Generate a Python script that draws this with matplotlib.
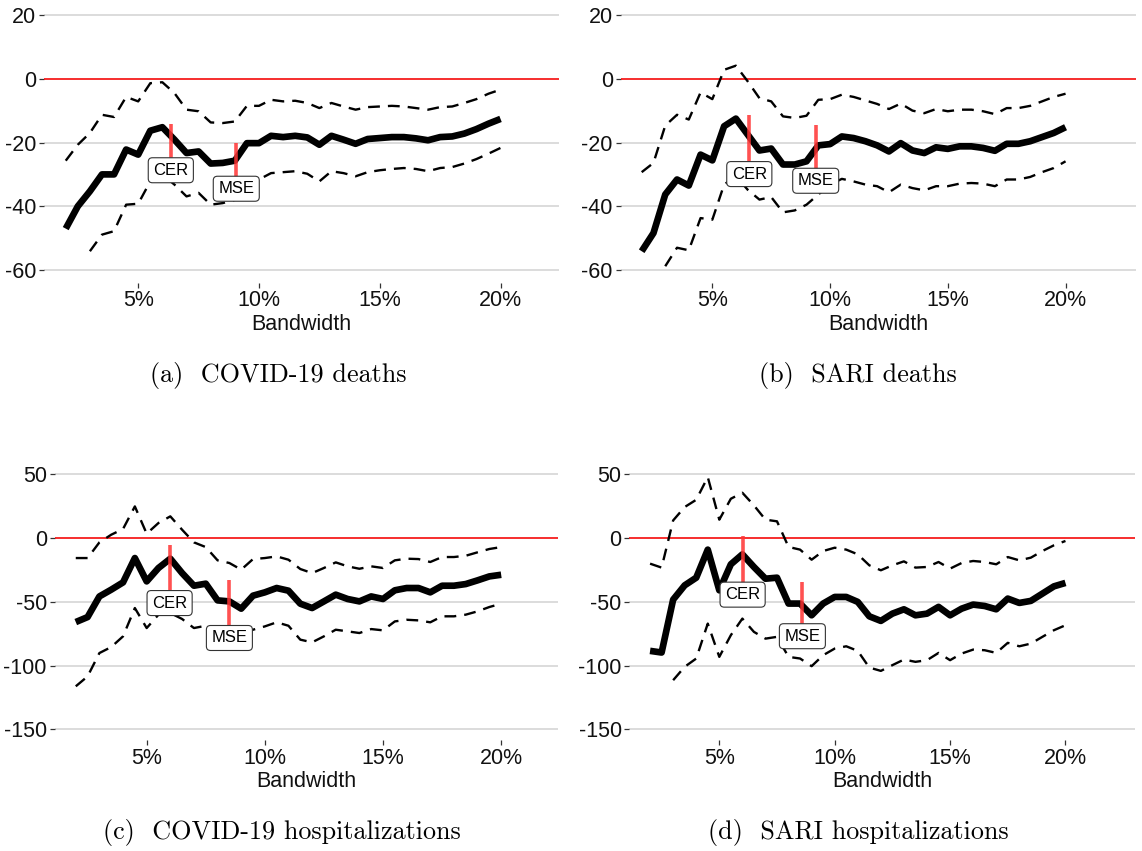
import matplotlib
matplotlib.use("Agg")
import matplotlib.pyplot as plt
import numpy as np

plt.rcParams["font.family"] = ["Liberation Sans", "DejaVu Sans"]

# bandwidth grid (percent)
bandwidth = [2.0, 2.5, 3.0, 3.5, 4.0, 4.5, 5.0, 5.5, 6.0, 6.5, 7.0, 7.5, 8.0,
             8.5, 9.0, 9.5, 10.0, 10.5, 11.0, 11.5, 12.0, 12.5, 13.0, 13.5,
             14.0, 14.5, 15.0, 15.5, 16.0, 16.5, 17.0, 17.5, 18.0, 18.5,
             19.0, 19.5, 20.0]

# (a) COVID-19 deaths
covid_deaths_est = [-47, -40, -35.3, -30, -30, -22.2, -23.8, -16.3, -15.2, -19.1,
                    -23.3, -22.8, -26.6, -26.4, -25.7, -20.2, -20.2, -17.9, -18.3,
                    -17.9, -18.4, -20.7, -17.9, -19.1, -20.4, -18.9, -18.6, -18.3,
                    -18.3, -18.7, -19.3, -18.3, -18.1, -17.2, -15.8, -14.1, -12.6]
covid_deaths_hi = [-25.7, -20.7, -17, -11.3, -12, -5.7, -7.1, -1.4, -1.1, -4.5,
                   -9.7, -10.2, -13.7, -13.9, -13.4, -8.5, -8.5, -6.6, -7.1,
                   -6.9, -7.6, -9.2, -7.6, -8.7, -9.7, -8.9, -8.7, -8.5,
                   -8.7, -9.2, -9.7, -8.9, -8.7, -7.6, -6.4, -4.7, -3.4]
covid_deaths_lo = [np.nan, np.nan, -54.1, -48.9, -47.8, -39.5, -39.2, -32.2, -30, -33.2,
                   -36.9, -35.8, -39.5, -39, -38, -33.7, -31.6, -29.6, -29.3,
                   -29, -29.8, -32.2, -29, -29.6, -30.6, -29.3, -28.7, -28.3,
                   -28, -28.3, -29, -28, -27.7, -26.6, -25.2, -23.5, -21.7]

# (b) SARI deaths
sari_deaths_est = [-54.1, -48.4, -36.3, -31.6, -33.5, -23.8, -25.6, -14.9, -12.5, -17.5,
                   -22.5, -21.9, -26.9, -26.9, -25.9, -20.9, -20.5, -18.1, -18.6,
                   -19.6, -20.9, -22.8, -20.2, -22.5, -23.3, -21.5, -22, -21.2,
                   -21.2, -21.7, -22.6, -20.4, -20.4, -19.6, -18.3, -17, -15.2]
sari_deaths_hi = [-29.3, -26.4, -14.7, -11.3, -12.8, -4.3, -6.4, 2.8, 4.1, -0.8,
                  -6.1, -7.1, -11.8, -12.3, -11.6, -6.6, -6.4, -5, -5.7,
                  -6.8, -7.9, -9.5, -7.8, -10, -10.8, -9.5, -10.2, -9.7,
                  -9.7, -10.2, -11.1, -9.2, -9.2, -8.5, -7.1, -5.7, -4.7]
sari_deaths_lo = [np.nan, np.nan, -58.8, -53, -53.8, -43.7, -44.2, -33.2, -30.5, -34.8,
                  -37.9, -37.1, -41.9, -41.3, -39.5, -36.3, -33.2, -31.4, -32.2,
                  -33.2, -33.7, -35.6, -33.2, -34.3, -35, -33.7, -33.7, -32.9,
                  -32.7, -32.9, -33.7, -31.6, -31.6, -30.8, -29.3, -28, -25.9]

# (c) COVID-19 hospitalizations
covid_hosp_est = [-65.9, -62, -45.8, -40.5, -34.8, -15.7, -34, -23.5, -16.2, -27.5,
                  -37.4, -35.8, -48.9, -49.7, -55.4, -45.2, -42.6, -39.2, -41.3,
                  -51.5, -54.9, -49.7, -44.4, -47.8, -49.7, -45.8, -47.8, -41,
                  -39.2, -39.2, -42.6, -37.4, -37.4, -36.1, -33.2, -30.1, -28.8]
covid_hosp_hi = [-15.7, -15.7, -3.4, 2.6, 7.1, 24.8, 3.4, 11.8, 17, 6.5,
                 -3.4, -7.1, -17.5, -19.6, -24.8, -16.5, -15.7, -14.4, -17,
                 -24.3, -27.5, -23.5, -19.1, -22.2, -24.1, -22.2, -23.5, -17.5,
                 -16.2, -16.5, -18.8, -14.9, -14.9, -13.9, -11.2, -8.6, -7.1]
covid_hosp_lo = [-116.3, -108.5, -90.2, -85.5, -77.1, -54.9, -70.6, -60.1, -58.8, -63.5,
                 -70.6, -68.8, -77, -78, -76.6, -71.9, -69.3, -66.1, -68.8,
                 -79.7, -81.8, -77.1, -71.9, -73.2, -74.5, -71.4, -72.4, -65.4,
                 -64.1, -64.6, -66.1, -61.4, -61.4, -60.1, -57.5, -54.1, -51.5]

# (d) SARI hospitalizations
sari_hosp_est = [-88.5, -89.8, -48.3, -37.1, -31.1, -9.1, -41, -20.6, -12.8, -22.7,
                 -31.9, -31.1, -51.4, -51.4, -60.6, -51.4, -46.2, -46.2, -50.1,
                 -61.4, -65, -59.3, -55.9, -60.6, -59.3, -54, -60.6, -55.4,
                 -52.2, -53.3, -55.9, -47.5, -50.9, -49.3, -43.6, -37.9, -35.2]
sari_hosp_hi = [-20.1, -23.2, 13.8, 24.3, 30, 47.8, 14.4, 30.8, 35.5, 25.6,
                14.4, 13.1, -7, -9.1, -17, -10.2, -7.6, -9.1, -12.8,
                -21.4, -25.3, -21.4, -18.3, -23.2, -22.7, -18.8, -24, -19.6,
                -18, -18.8, -20.6, -14.9, -17.5, -15.4, -10.2, -5.7, -2.3]
sari_hosp_lo = [np.nan, np.nan, -111.5, -101, -94.5, -67.1, -93.2, -76.2, -63.2, -73.6,
                -78.9, -77.5, -93.2, -94.5, -100.5, -91.9, -86.7, -84.9, -88.5,
                -101.6, -104.2, -99.7, -95.3, -97.1, -95.8, -90.1, -95.8, -90.6,
                -87.5, -88, -90.1, -82.2, -84.9, -82.8, -77.5, -72.3, -68.4]

# optimal bandwidths: (x, segment top, label y)
cer_marks = [(6.35, -14.2, -28.7), (6.57, -11.5, -29.9), (5.97, -5.8, -51.0), (6.01, 1.3, -44.4)]
mse_marks = [(9.06, -20.2, -34.5), (9.39, -14.4, -32.0), (8.50, -33.2, -78.4), (8.60, -34.7, -77.0)]

captions = ["(a)  COVID-19 deaths", "(b)  SARI deaths",
            "(c)  COVID-19 hospitalizations", "(d)  SARI hospitalizations"]

W, H = 1142, 851
# panel rectangles in pixels: left, top, right, bottom
panel_px = [(44, 8.6, 558.5, 282.8), (620.5, 8.6, 1136.2, 282.8),
            (54.5, 467.9, 557.9, 740.0), (629.3, 467.9, 1134.7, 740.0)]
xlims = [(1.1, 22.4), (1.1, 23.0), (1.1, 22.4), (1.1, 23.0)]
ylims = [(-64, 22), (-64, 22), (-158.4, 55), (-158.4, 55)]
yticks = [[20, 0, -20, -40, -60], [20, 0, -20, -40, -60],
          [50, 0, -50, -100, -150], [50, 0, -50, -100, -150]]
caption_pos = [(278, 375), (858, 375), (282, 833), (858, 833)]

series = [(covid_deaths_est, covid_deaths_hi, covid_deaths_lo),
          (sari_deaths_est, sari_deaths_hi, sari_deaths_lo),
          (covid_hosp_est, covid_hosp_hi, covid_hosp_lo),
          (sari_hosp_est, sari_hosp_hi, sari_hosp_lo)]

fig = plt.figure(figsize=(W / 100, H / 100), dpi=100)

for i, (est, hi, lo) in enumerate(series):
    l, t, r, b = panel_px[i]
    ax = fig.add_axes([l / W, 1 - b / H, (r - l) / W, (b - t) / H])
    ax.set_xlim(*xlims[i])
    ax.set_ylim(*ylims[i])
    for s in ax.spines.values():
        s.set_visible(False)
    ax.set_yticks(yticks[i])
    ax.set_yticklabels([str(v) for v in yticks[i]])
    ax.set_xticks([5, 10, 15, 20])
    ax.set_xticklabels(["5%", "10%", "15%", "20%"])
    ax.tick_params(axis="both", colors="#333333", labelcolor="#111111",
                   labelsize=15.5, length=3.5, width=0.9, pad=2)
    ax.grid(axis="y", color="#d9d9d9", linewidth=1.3)
    ax.set_axisbelow(True)
    ax.set_xlabel("Bandwidth", fontsize=15.5, labelpad=2, color="#111111")

    ax.axhline(0, color="red", linewidth=1.1, zorder=1.5)
    ax.plot(bandwidth, hi, color="black", linewidth=1.7, linestyle=(0, (5, 3.4)), zorder=2)
    ax.plot(bandwidth, lo, color="black", linewidth=1.7, linestyle=(0, (5, 3.4)), zorder=2)
    ax.plot(bandwidth, est, color="black", linewidth=4.8, solid_capstyle="butt",
            solid_joinstyle="round", zorder=3)

    for name, (mx, top, ly) in (("CER", cer_marks[i]), ("MSE", mse_marks[i])):
        ax.plot([mx, mx], [top, ly], color="#ff3333", alpha=0.85, linewidth=2.6,
                solid_capstyle="butt", zorder=4)
        ax.text(mx, ly, name, ha="center", va="center", fontsize=12, color="black",
                zorder=5,
                bbox=dict(boxstyle="round,pad=0.3,rounding_size=0.25",
                          facecolor="white", edgecolor="#333333", linewidth=0.8))

    cx, cy = caption_pos[i]
    fig.text(cx / W, 1 - cy / H, captions[i], family="cmr10", fontsize=18.8,
             ha="center", va="center")

fig.savefig("out.png", dpi=100)
